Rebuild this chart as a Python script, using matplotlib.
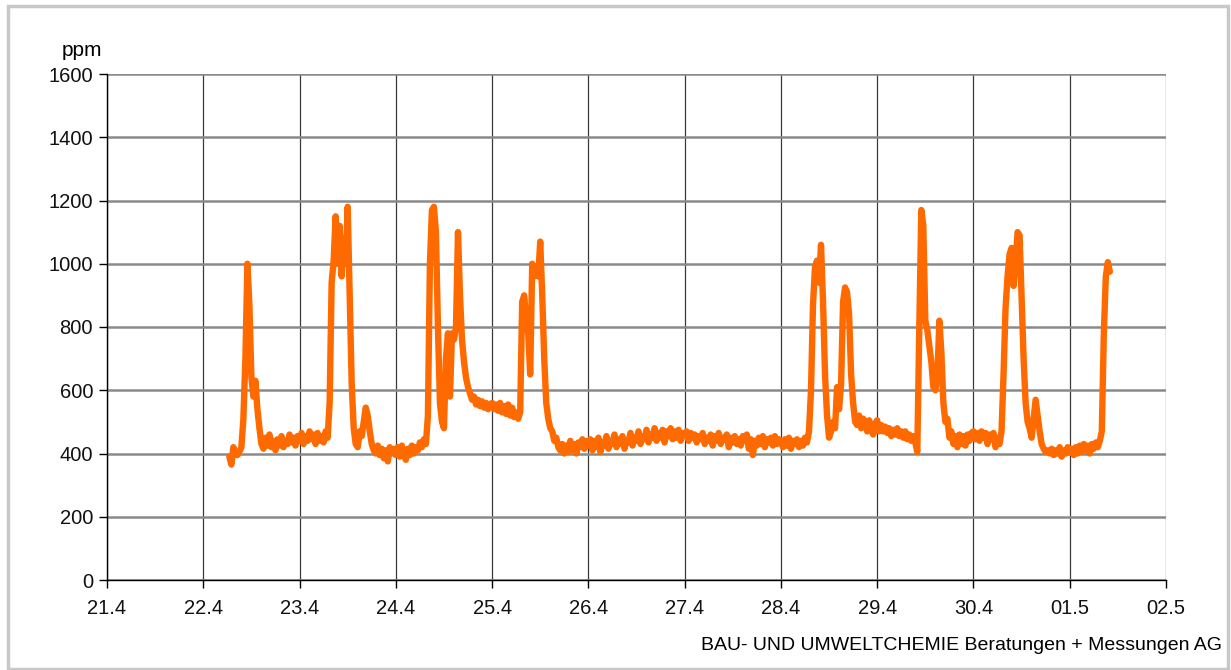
import matplotlib
matplotlib.use("Agg")
import matplotlib.pyplot as plt
from matplotlib.patches import Rectangle
import numpy as np

# CO2 readings, one every 30 minutes, first one on 22.4 at 06:30
start_hour = 30.5  # hours after 21.4 00:00
step_hour = 0.5

ppm_22_4 = [390, 365, 420, 400, 395, 405, 420, 510, 700, 1000, 870, 640,
            580, 630, 540, 480, 430, 415, 450, 425, 460, 420, 440, 410,
            445, 425, 455, 420, 440, 430, 460, 435, 450, 425, 455]
ppm_23_4 = [440, 465, 430, 455, 440, 470, 445, 460, 430, 465, 440, 455,
            435, 470, 450, 560, 940, 1010, 1150, 1000, 1120, 960, 1080, 1000,
            1180, 900, 620, 480, 430, 420, 470, 455, 500, 545, 520, 470,
            430, 410, 400, 425, 395, 415, 385, 410, 375, 420, 400, 415]
ppm_24_4 = [395, 420, 390, 425, 400, 380, 415, 395, 425, 400, 420, 410,
            435, 420, 445, 430, 520, 1000, 1170, 1180, 1100, 800, 560, 500,
            480, 700, 780, 580, 780, 760, 800, 1100, 900, 760, 690, 640,
            610, 590, 570, 580, 555, 570, 550, 565, 545, 560, 540, 555]
ppm_25_4 = [560, 540, 555, 535, 560, 530, 550, 525, 555, 520, 545, 515,
            530, 510, 530, 880, 900, 820, 780, 650, 1000, 960, 990, 960,
            1070, 900, 700, 560, 510, 480, 470, 440, 450, 420, 410, 430,
            400, 425, 405, 440, 410, 430, 400, 435, 420, 445, 415, 440]
ppm_26_4 = [425, 445, 410, 440, 420, 450, 405, 435, 425, 455, 415, 440,
            430, 460, 420, 445, 430, 455, 415, 440, 435, 465, 425, 450,
            440, 470, 430, 455, 445, 475, 435, 460, 450, 480, 440, 465,
            450, 475, 435, 470, 455, 480, 445, 470, 450, 475, 440, 465]
ppm_27_4 = [455, 470, 440, 465, 450, 460, 435, 455, 445, 465, 430, 450,
            440, 460, 425, 455, 440, 465, 430, 450, 445, 460, 420, 450,
            435, 455, 430, 445, 425, 455, 440, 460, 415, 445, 395, 440,
            425, 450, 430, 455, 420, 445, 435, 450, 425, 455, 430, 445]
ppm_28_4 = [440, 420, 445, 425, 450, 415, 440, 430, 445, 420, 440, 425,
            450, 435, 470, 600, 870, 990, 1010, 940, 1060, 880, 650, 520,
            450, 470, 500, 480, 610, 540, 620, 880, 925, 910, 840, 650,
            560, 500, 490, 520, 480, 510, 500, 470, 505, 480, 460, 495]
ppm_29_4 = [505, 470, 490, 470, 485, 465, 480, 455, 475, 460, 480, 455,
            470, 450, 470, 445, 460, 440, 455, 435, 405, 800, 1170, 1120,
            820, 790, 740, 690, 610, 600, 640, 820, 720, 560, 500, 510,
            450, 470, 430, 455, 420, 460, 430, 455, 425, 460, 440, 465]
ppm_30_4 = [470, 445, 465, 440, 470, 450, 465, 430, 460, 445, 465, 420,
            450, 430, 470, 650, 860, 960, 1030, 1050, 930, 1000, 1100, 1090,
            900, 700, 560, 500, 480, 450, 510, 570, 520, 470, 430, 415,
            405, 410, 400, 415, 395, 410, 400, 420, 390, 410, 400, 420]
ppm_01_5 = [405, 415, 395, 420, 400, 425, 405, 430, 410, 425, 400, 430,
            415, 435, 420, 440, 470, 780, 960, 1005, 975]

day_labels = ["21.4", "22.4", "23.4", "24.4", "25.4", "26.4", "27.4",
              "28.4", "29.4", "30.4", "01.5", "02.5"]
y_ticks = [0, 200, 400, 600, 800, 1000, 1200, 1400, 1600]

ppm = (ppm_22_4 + ppm_23_4 + ppm_24_4 + ppm_25_4 + ppm_26_4 + ppm_27_4
       + ppm_28_4 + ppm_29_4 + ppm_30_4 + ppm_01_5)
days = (start_hour + step_hour * np.arange(len(ppm))) / 24.0

font = ["Liberation Sans Narrow", "Liberation Sans", "DejaVu Sans"]
plt.rcParams["font.family"] = font
plt.rcParams["font.size"] = 14

fig = plt.figure(figsize=(12.31, 6.70), dpi=100)
ax = fig.add_axes([107 / 1231, 1 - 580 / 670, (1166 - 107) / 1231, (580 - 74) / 670])

ax.plot(days, ppm, color="#ff6a00", lw=4.6, solid_joinstyle="round",
        solid_capstyle="round", zorder=3)

ax.set_xlim(0, len(day_labels) - 1)
ax.set_ylim(0, 1600)
ax.set_xticks(range(len(day_labels)))
ax.set_xticklabels(day_labels)
ax.set_yticks(y_ticks)

ax.yaxis.grid(True, color="#8a8a8a", lw=1.8)
ax.xaxis.grid(True, color="#3a3a3a", lw=0.9)
ax.set_axisbelow(True)

for side in ["top", "right"]:
    ax.spines[side].set_visible(False)
for side in ["left", "bottom"]:
    ax.spines[side].set_color("black")
    ax.spines[side].set_linewidth(1.0)
ax.tick_params(axis="both", direction="out", length=6, width=1,
               color="black", labelsize=14.5, labelcolor="#111111")
ax.tick_params(axis="x", pad=8)
ax.tick_params(axis="y", pad=4)

fig.text(82 / 1231, 1 - 50 / 670, "ppm", ha="center", va="center", fontsize=15)
fig.text(1222 / 1231, 1 - 645 / 670, "BAU- UND UMWELTCHEMIE Beratungen + Messungen AG",
         ha="right", va="center", fontsize=14)

fig.patches.append(Rectangle((8 / 1231, 1 / 670), 1220 / 1231, 663 / 670,
                             transform=fig.transFigure, fill=False,
                             edgecolor="#c8c8c8", lw=2.5))

fig.savefig("out.png", dpi=100)
